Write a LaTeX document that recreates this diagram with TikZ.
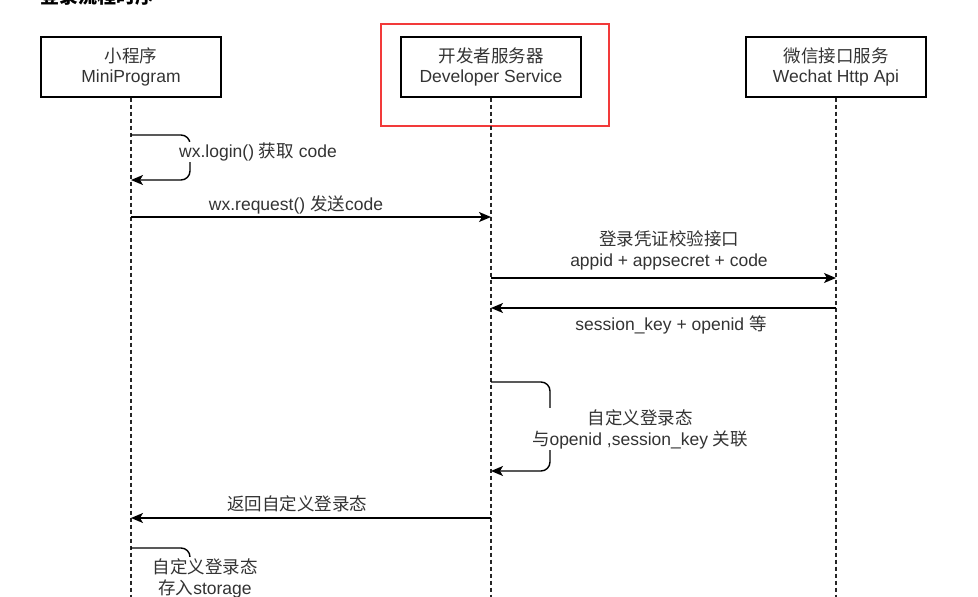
\documentclass[tikz,border=0pt]{standalone}
\usepackage{fontspec}
\setmainfont{Liberation Sans}
\newfontfamily\cjk{Noto Sans CJK SC}
\usetikzlibrary{arrows.meta}
\definecolor{txt}{HTML}{333333}
\definecolor{redbox}{HTML}{F23A3A}
\begin{document}
\begin{tikzpicture}[x=1pt,y=-1pt,
  actor/.style={draw=black, line width=1.3pt, minimum width=180pt, minimum height=60pt, inner sep=0pt, align=center, text=txt, font=\fontsize{17.5}{20}\selectfont},
  life/.style={line width=1.2pt, dash pattern=on 4pt off 3pt, draw=black!85},
  msg/.style={line width=1.4pt, draw=black, -{Stealth[length=12pt,width=10pt,inset=3pt]}},
  loopline/.style={line width=1.4pt, draw=black, rounded corners=9pt},
  lbl/.style={text=txt, font=\fontsize{17.5}{21}\selectfont, align=center, inner sep=1pt},
  bglbl/.style={lbl, fill=white}
]
\useasboundingbox (0,0) rectangle (978,597);

% heading (cut off at the top)
\node[anchor=south west, inner sep=0pt, font={\cjk\bfseries\fontsize{19}{20}\selectfont}] (hd) at (40,6) {登录流程时序};

% actors
\node[actor] (mp) at (131,67) {{\cjk 小程序}\\MiniProgram};
\node[actor] (ds) at (491,67) {{\cjk 开发者服务器}\\Developer Service};
\node[actor] (wx) at (836,67) {{\cjk 微信接口服务}\\Wechat Http Api};
\node[draw=redbox, line width=2.2pt, minimum width=228pt, minimum height=102pt, inner sep=0pt] (hl) at (495,75) {};

% lifelines
\coordinate (mpEnd) at (131,597);
\coordinate (dsEnd) at (491,597);
\coordinate (wxEnd) at (836,597);
\draw[life] (mp.south) -- (mpEnd);
\draw[life] (ds.south) -- (dsEnd);
\draw[life] (wx.south) -- (wxEnd);

% 1: wx.login()
\coordinate (l1a) at (131,135);
\coordinate (l1b) at (131,180);
\draw[msg, rounded corners=9pt] (l1a) -- ++(59,0) |- (l1b);
\node[bglbl] (t1) at (258,152) {wx.login() {\cjk 获取} code};

% 2: wx.request()
\coordinate (m2a) at (131,217);
\coordinate (m2b) at (491,217);
\draw[msg] (m2a) -- (m2b);
\node[lbl] (t2) at (296,205) {wx.request() {\cjk 发送}code};

% 3: code2session
\coordinate (m3a) at (491,278);
\coordinate (m3b) at (836,278);
\draw[msg] (m3a) -- (m3b);
\node[lbl] (t3) at (669,250) {{\cjk 登录凭证校验接口}\\appid + appsecret + code};

% 4: response
\coordinate (m4a) at (836,308);
\coordinate (m4b) at (491,308);
\draw[msg] (m4a) -- (m4b);
\node[lbl] (t4) at (671,325) {session\_key + openid {\cjk 等}};

% 5: custom login state
\coordinate (l5a) at (491,382);
\coordinate (l5b) at (491,471);
\draw[msg, rounded corners=9pt] (l5a) -- ++(59,0) |- (l5b);
\node[bglbl] (t5) at (640,429) {{\cjk 自定义登录态}\\{\cjk 与}openid ,session\_key {\cjk 关联}};

% 6: return
\coordinate (m6a) at (491,518);
\coordinate (m6b) at (131,518);
\draw[msg] (m6a) -- (m6b);
\node[lbl] (t6) at (297,504) {\cjk 返回自定义登录态};

% 7: store
\coordinate (l7a) at (131,548);
\coordinate (l7b) at (190,620);
\draw[loopline] (l7a) -| (l7b);
\node[bglbl] (t7) at (205,578) {{\cjk 自定义登录态}\\{\cjk 存入}storage};
\end{tikzpicture}
\end{document}
